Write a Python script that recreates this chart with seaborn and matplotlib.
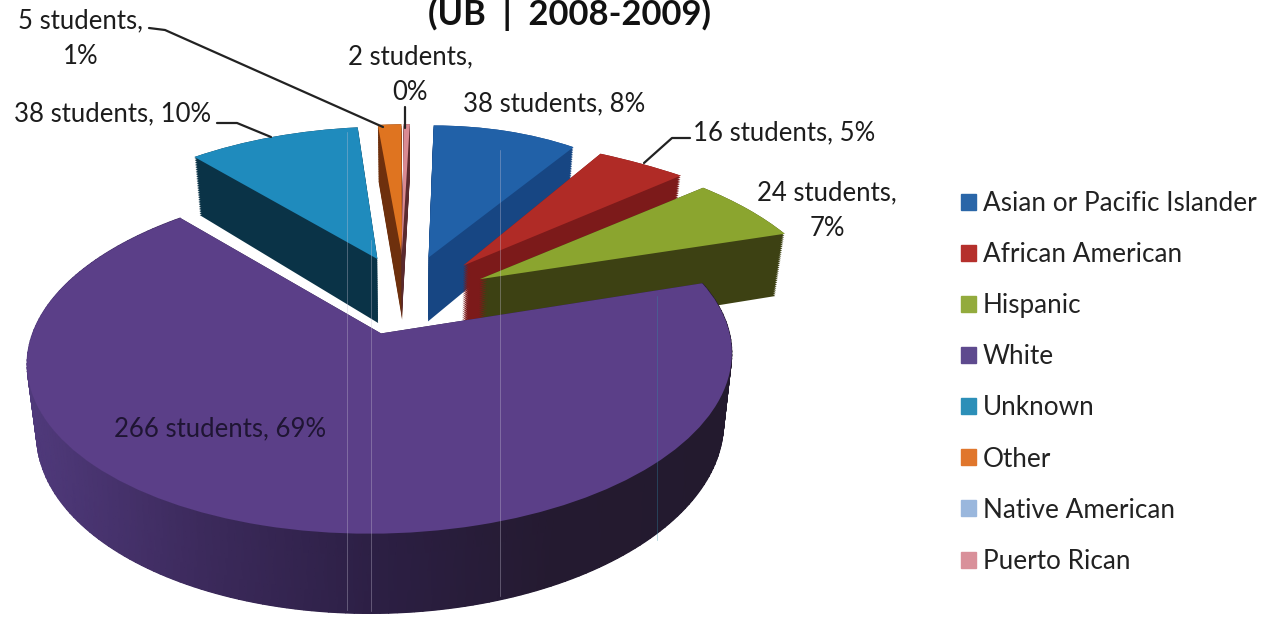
import numpy as np
import seaborn as sns
import matplotlib.pyplot as plt
from matplotlib.transforms import Transform

# Data
categories = ['Asian or Pacific Islander', 'African American', 'Hispanic', 'White',
              'Unknown', 'Other', 'Native American', 'Puerto Rican']
students = [38, 16, 24, 266, 38, 5, 0, 2]
percent_labels = [8, 5, 7, 69, 10, 1, 0, 0]
title_text = '(UB  |  2008-2009)'

# Colours
top_colors = ['#2161a8', '#b02b26', '#8ba52f', '#5b3f88', '#1f8bbd', '#df7420', '#95b3d7', '#d98a92']
side_colors = ['#174683', '#7c1a1a', '#3d4113', '#2c1f42', '#0a3347', '#6e300d', '#5f7a9c', '#5a2a2e']
legend_colors = ['#2a66a8', '#b5302c', '#93ab3d', '#5e4a8e', '#2c8fb8', '#e0762c', '#9ab7dd', '#d9909a']

# Fake 3D view, in pixels of the picture
X0, Y0 = 406, 294
SCALE_X, SCALE_Y = 342, 160
PERSPECTIVE = 0.14
SHEAR = 8
DEPTH = 66
EXPLODE = 0.247
LAYERS = 34
draw_order = [4, 5, 6, 7, 0, 1, 2, 3]
slice_spread = [0.82, 1.12, 1.023, 0.985, 0.96, 1, 1, 0.65]
slice_skew = [0, -0.233, -0.09, 0, 0, 0, 0, 0]
slice_nudge = [-4, 0, 0, 0, 3, 0, 0, -5]
slice_lift = [0, 0, 4, 0, 0, 0, 0, 0]


class PieView(Transform):
    input_dims = 2
    output_dims = 2

    def __init__(self, shift, i, drop):
        super().__init__()
        self.shift, self.i, self.drop = shift, i, drop

    def transform_non_affine(self, values):
        values = np.asarray(values, dtype=float)
        i = self.i
        bx = slice_spread[i] * values[:, 0] + slice_skew[i] * values[:, 1] + self.shift[0]
        by = values[:, 1] + self.shift[1]
        w = 1 + PERSPECTIVE * by
        sx = SCALE_X * bx / w + SHEAR * by + slice_nudge[i]
        sx = X0 + sx * (1 - 0.025 * self.drop)
        sy = Y0 - SCALE_Y * by / w + self.drop * DEPTH / w + slice_lift[i]
        return np.column_stack([sx, sy])


sns.set_theme(style='white')
plt.rcParams['font.family'] = ['Lato', 'DejaVu Sans']

fig = plt.figure(figsize=(12.68, 6.21), dpi=100)
ax = fig.add_axes([0, 0, 1, 1])


def draw_pie(colors, drop, z_offset):
    wedges, _ = ax.pie(students, colors=colors, startangle=90, counterclock=False,
                       radius=1, wedgeprops={'linewidth': 0})
    for i, w in enumerate(wedges):
        mid = np.radians((w.theta1 + w.theta2) / 2)
        shift = (EXPLODE * np.cos(mid), EXPLODE * np.sin(mid))
        w.set_transform(PieView(shift, i, drop) + ax.transData)
        w.set_zorder(draw_order[i] * 10 + z_offset)
        w.set_visible(students[i] > 0)
    return wedges


# Side walls are a stack of darker pies, top faces go last
for k in range(LAYERS):
    draw_pie(side_colors, 1 - k / (LAYERS - 1), k / LAYERS)
tops = draw_pie(top_colors, 0, 2)

# Outer wall of the big slice gets a left to right shade
white = tops[3]
mid = np.radians((white.theta1 + white.theta2) / 2)
shift = (EXPLODE * np.cos(mid), EXPLODE * np.sin(mid))
arc = np.radians(np.linspace(white.theta1, white.theta2, 200))
unit = np.column_stack([np.cos(arc), np.sin(arc)])
upper = PieView(shift, 3, 0).transform_non_affine(unit)
lower = PieView(shift, 3, 1).transform_non_affine(unit)
wall_x = np.column_stack([upper[:, 0], lower[:, 0]])
wall_y = np.column_stack([upper[:, 1], lower[:, 1]])
shade = sns.blend_palette(['#503a7c', '#3c2a5c', '#2c1f44', '#241a30', '#231a2e'], as_cmap=True)
ax.pcolormesh(wall_x, wall_y, wall_x, cmap=shade, shading='gouraud', zorder=draw_order[3] * 10 + 1.5)

ax.set_aspect('auto')
ax.set_xlim(0, 1268)
ax.set_ylim(621, 0)
ax.axis('off')

# Faint vertical streaks from the scan
for x, top, bottom, c in [(347, 132, 610, '#c9c3d6'), (371, 240, 611, '#c9c3d6'),
                          (500, 150, 596, '#c9c3d6'), (657, 296, 540, '#2f8fa8')]:
    ax.plot([x, x], [top, bottom], color=c, lw=0.7, alpha=0.35, zorder=120)

# Data labels
labels = [f'{n} students, {p}%' for n, p in zip(students, percent_labels)]
label_font = {'fontsize': 18.5, 'color': '#1c1c1c', 'ha': 'center', 'va': 'center', 'zorder': 200}
ax.text(554, 104, labels[0], **label_font)
ax.text(784, 133, labels[1], **label_font)
ax.text(827, 211, labels[2].replace(' 7%', '\n7%'), linespacing=1.55, **label_font)
ax.text(220, 429, labels[3], **{**label_font, 'color': '#1f1533'})
ax.text(113, 114, labels[4], **label_font)
ax.text(81, 39, labels[5].replace(' 1%', '\n1%'), linespacing=1.55, **label_font)
ax.text(410, 75, labels[7].replace(' 0%', '\n0%'), linespacing=1.55, **label_font)

# Leader lines
leader = {'color': '#222222', 'lw': 1.6, 'zorder': 150}
ax.plot([149, 165, 383], [28, 30, 127], **leader)
ax.plot([405, 405], [107, 128], **leader)
ax.plot([217, 237, 271], [123, 123, 137], **leader)
ax.plot([690, 672, 644], [138, 138, 163], **leader)

# Title, cut off by the top of the page as in the scan
ax.text(570, 25, title_text, fontsize=24.8, fontweight='bold', color='#111111',
        ha='center', va='baseline', zorder=200)

# Legend
handles = [plt.Rectangle((0, 0), 1, 1, color=c) for c in sns.color_palette(legend_colors)]
ax.legend(handles, categories, loc='upper left', bbox_to_anchor=(961 / 1268, 1 - 191 / 621),
          frameon=False, fontsize=18.8, labelcolor='#222222', handlelength=0.57, handleheight=0.57,
          handletextpad=0.27, labelspacing=1.0, borderpad=0, borderaxespad=0)

fig.savefig('out.png', dpi=100)
